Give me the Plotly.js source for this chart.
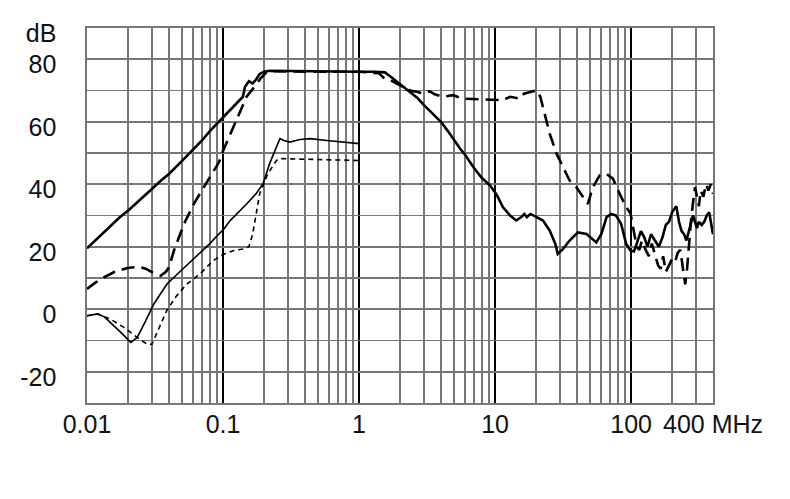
<!DOCTYPE html>
<html>
<head>
<meta charset="utf-8">
<script src="https://cdn.plot.ly/plotly-3.0.1.min.js"></script>
<style>html,body{margin:0;padding:0;background:#fff;}#chart{width:790px;height:499px;}</style>
</head>
<body>
<div id="chart"></div>
<script>
// Frequencies in MHz, levels in dB
const freqA = [0.01,0.0115,0.013,0.015,0.0175,0.02,0.025,0.03,0.035,0.04,0.05,0.06,0.07,0.08,0.09,0.1,0.12,0.14,0.145,0.155,0.165,0.175,0.186,0.2,0.22,0.3,0.5,0.8,1.0,1.3,1.55,1.7,1.9,2.1,2.4,2.7,3.0,3.5,4.0,4.5,5.0,5.5,6.0,7.0,8.0,9.2,10.3,11.4,12.9,14.3,15.6,16.4,17.1,18.2,20.2,22.5,25.2,27.7,28.9,31.6,35.3,40.6,47,52.4,55.5,60.5,66,71.5,77.5,84.5,92,99,105,110,118,125,132,140,150,160,170,180,190,200,215,225,235,245,255,265,275,285,295,305,315,330,345,360,375,390,400];
const levelA = [19.5,22,24.5,27,29.5,31.5,35.5,38.5,41.2,43.3,47.5,51,54,57,59.3,61.3,65,68,71.2,73,72.3,73.5,75.3,76,76.3,76.2,76.1,76,76,76,75.8,74.5,72.8,71.5,69.5,67.5,65.3,62.5,60,57,53.9,51.5,49.5,45.2,42,39.6,36.6,32.7,30,28.4,29.5,30.5,29.5,30.5,29.5,28.4,25.2,21,17.7,19.3,22,24.6,24.1,22.5,21.4,24.1,29.5,30.5,30,27.3,20.9,18.8,18.5,21,25,23,20,24,22,20,23,27,28,31,33,28,25,24,22,25,27,30,28,26,28,27,28,30,31,27,24];

const freqB = [0.01,0.0115,0.0133,0.016,0.0198,0.0241,0.027,0.0302,0.0348,0.038,0.04,0.0436,0.0516,0.061,0.0723,0.08,0.0935,0.1005,0.122,0.149,0.166,0.19,0.21,0.22,0.5,1.0,1.4,1.55,1.75,2.0,2.37,2.7,2.98,3.3,3.6,4.1,4.9,5.8,7.3,9.6,11.4,12.9,15.2,16.3,18.2,20.2,21.5,22.5,25.2,28.3,31.6,35.3,39.5,44.2,48.1,52.4,58.6,65.6,73.5,82.3,92,99,105,110,115,120,128,135,142,150,158,165,172,180,190,200,210,220,230,240,250,258,265,275,285,295,305,315,325,340,355,370,385,400];
const levelB = [6.5,8.5,10.2,12,13.2,13.6,13,11.8,10.7,12,13.4,18.8,27.3,33.7,39.1,42.3,47.1,50.9,59.4,68,70.6,74,76,76.2,76,76,75.5,73.7,73,71.7,70,69.5,69,69.8,68.8,68,68.5,67.4,67.2,67.1,66.9,68,67.4,69,69.6,70.1,68,64.7,56.2,49.8,45.5,41.2,39.1,35.9,33.7,39.1,42.8,43.4,41.8,37,32.7,30.6,24,20,19,22,19,17,21,17,14,13,17,12,14,16,15,18,19,14,8,13,20,28,34,39,36,33,38,36,40,38,40,37];

const freqC = [0.01,0.012,0.0135,0.0149,0.0177,0.021,0.0234,0.027,0.031,0.035,0.039,0.045,0.0516,0.06,0.0685,0.08,0.09,0.1016,0.112,0.13,0.149,0.175,0.197,0.22,0.247,0.262,0.28,0.31,0.368,0.437,0.58,0.76,0.96,1.0];
const levelC = [-2.1,-1.5,-2.5,-4.2,-7.4,-10.6,-9,-3.7,1.7,5.2,8.2,10.8,13.2,15.8,18,21,23.4,25.7,28.2,31,33.7,37,40.2,46.6,51.9,54.6,54,53.5,54.3,54.6,54,53.5,53,53];

const freqD = [0.01,0.012,0.0149,0.0187,0.0234,0.0277,0.030,0.0348,0.0385,0.045,0.054,0.0685,0.0843,0.1,0.12,0.141,0.155,0.165,0.186,0.214,0.247,0.26,0.5,1.0];
const levelD = [-2.1,-1.5,-3.2,-5.8,-9,-11.2,-11.2,-5,-0.5,4,8,11.5,15.5,17.5,18.8,19.3,20,24,37,43.4,47.6,48.2,48,47.6];

const xTickVals = [0.01,0.1,1,10,100,400];
const xTickText = ['0.01','0.1','1','10','100','400 MHz'];
const xMinorVals = [0.02,0.03,0.04,0.05,0.06,0.07,0.08,0.09,0.2,0.3,0.4,0.5,0.6,0.7,0.8,0.9,2,3,4,5,6,7,8,9,20,30,40,50,60,70,80,90,200,300];
const yTickVals = [-30,-20,-10,0,10,20,30,40,50,60,70,80,90];
const yTickText = ['','-20','','0','','20','','40','','60','','80','dB'];

const traces = [
  {x: freqA, y: levelA, mode: 'lines', line: {color: '#000', width: 2.6}},
  {x: freqB, y: levelB, mode: 'lines', line: {color: '#000', width: 2.6, dash: '13px,7px'}},
  {x: freqC, y: levelC, mode: 'lines', line: {color: '#000', width: 1.6}},
  {x: freqD, y: levelD, mode: 'lines', line: {color: '#000', width: 1.6, dash: '5px,4px'}}
];

const font = {family: '"Liberation Sans", Arial, sans-serif', size: 25, color: '#111'};

const layout = {
  width: 790, height: 499,
  margin: {l: 87, r: 77, t: 28, b: 96},
  paper_bgcolor: '#fff', plot_bgcolor: '#fff',
  showlegend: false,
  hovermode: false,
  font: font,
  xaxis: {
    type: 'log', range: [Math.log10(0.01), Math.log10(400)],
    tickmode: 'array', tickvals: xTickVals, ticktext: xTickText,
    showgrid: true, gridcolor: '#000', gridwidth: 1.8,
    minor: {tickmode: 'array', tickvals: xMinorVals, showgrid: true, gridcolor: '#777', gridwidth: 1.6, ticks: ''},
    showline: true, mirror: true, linecolor: '#777', linewidth: 1.6,
    ticks: '', zeroline: false, tickfont: font, ticklabelstandoff: -2
  },
  yaxis: {
    range: [-30, 90],
    tickmode: 'array', tickvals: yTickVals, ticktext: yTickText,
    showgrid: true, gridcolor: '#777', gridwidth: 1.6,
    showline: true, mirror: true, linecolor: '#777', linewidth: 1.6,
    ticks: '', zeroline: false, tickfont: font,
    ticklabelshift: 5, ticklabelstandoff: 24
  }
};

Plotly.newPlot('chart', traces, layout, {staticPlot: true, displayModeBar: false});
</script>
</body>
</html>
